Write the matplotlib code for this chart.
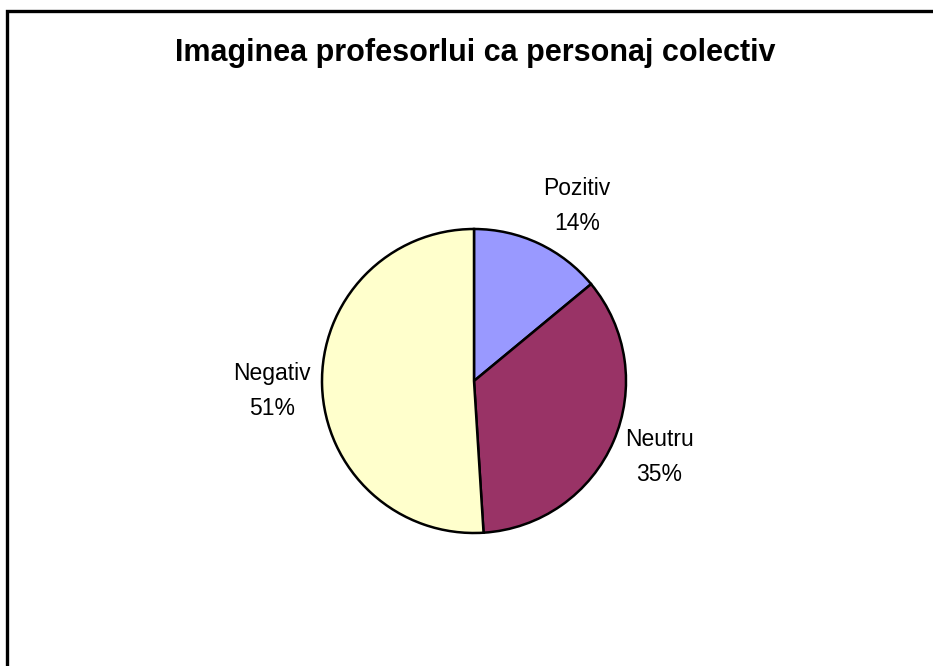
import matplotlib
matplotlib.use("Agg")
import matplotlib.pyplot as plt
from matplotlib.patches import Rectangle

title = "Imaginea profesorlui ca personaj colectiv"
categories = ["Pozitiv", "Neutru", "Negativ"]
values = [14, 35, 51]
colors = ["#9999FF", "#993366", "#FFFFCC"]

plt.rcParams['font.family'] = ['Liberation Sans', 'DejaVu Sans']

W, H = 933, 666
fig = plt.figure(figsize=(W / 100, H / 100), dpi=100)
fig.patch.set_facecolor("white")

# outer frame (only top and left visible, rest cropped)
fig.patches.append(Rectangle((7 / W, -0.2), 1.2, (H - 11) / H + 0.2,
                             transform=fig.transFigure, fill=False,
                             edgecolor="black", linewidth=2.4, clip_on=False))

cx, cy, r = 474, 381, 152
ax = fig.add_axes([(cx - r) / W, (H - cy - r) / H, 2 * r / W, 2 * r / H])

labels = [f"{c}\n{v}%" for c, v in zip(categories, values)]
wedges, texts = ax.pie(values, colors=colors, startangle=90, counterclock=False,
                       radius=1, labels=labels, labeldistance=1.33,
                       wedgeprops=dict(edgecolor="black", linewidth=1.8),
                       textprops=dict(fontsize=16.5, color="black", linespacing=1.65))
# small label nudges (Excel-style placement)
nudges = [(0.11, -0.05), (0.0, 0.03), (0.0, -0.025)]
for t, (ddx, ddy) in zip(texts, nudges):
    x, y = t.get_position()
    t.set_position((x + ddx, y + ddy))
    t.set_ha("center")
    t.set_va("center")
    t.set_clip_on(False)
ax.set_xlim(-1, 1)
ax.set_ylim(-1, 1)
ax.set_aspect("equal")
ax.axis("off")

fig.text(475 / W, 1 - 53 / H, title, ha="center", va="center",
         fontsize=22, fontweight="bold", color="black")

fig.savefig("out.png", dpi=100)
